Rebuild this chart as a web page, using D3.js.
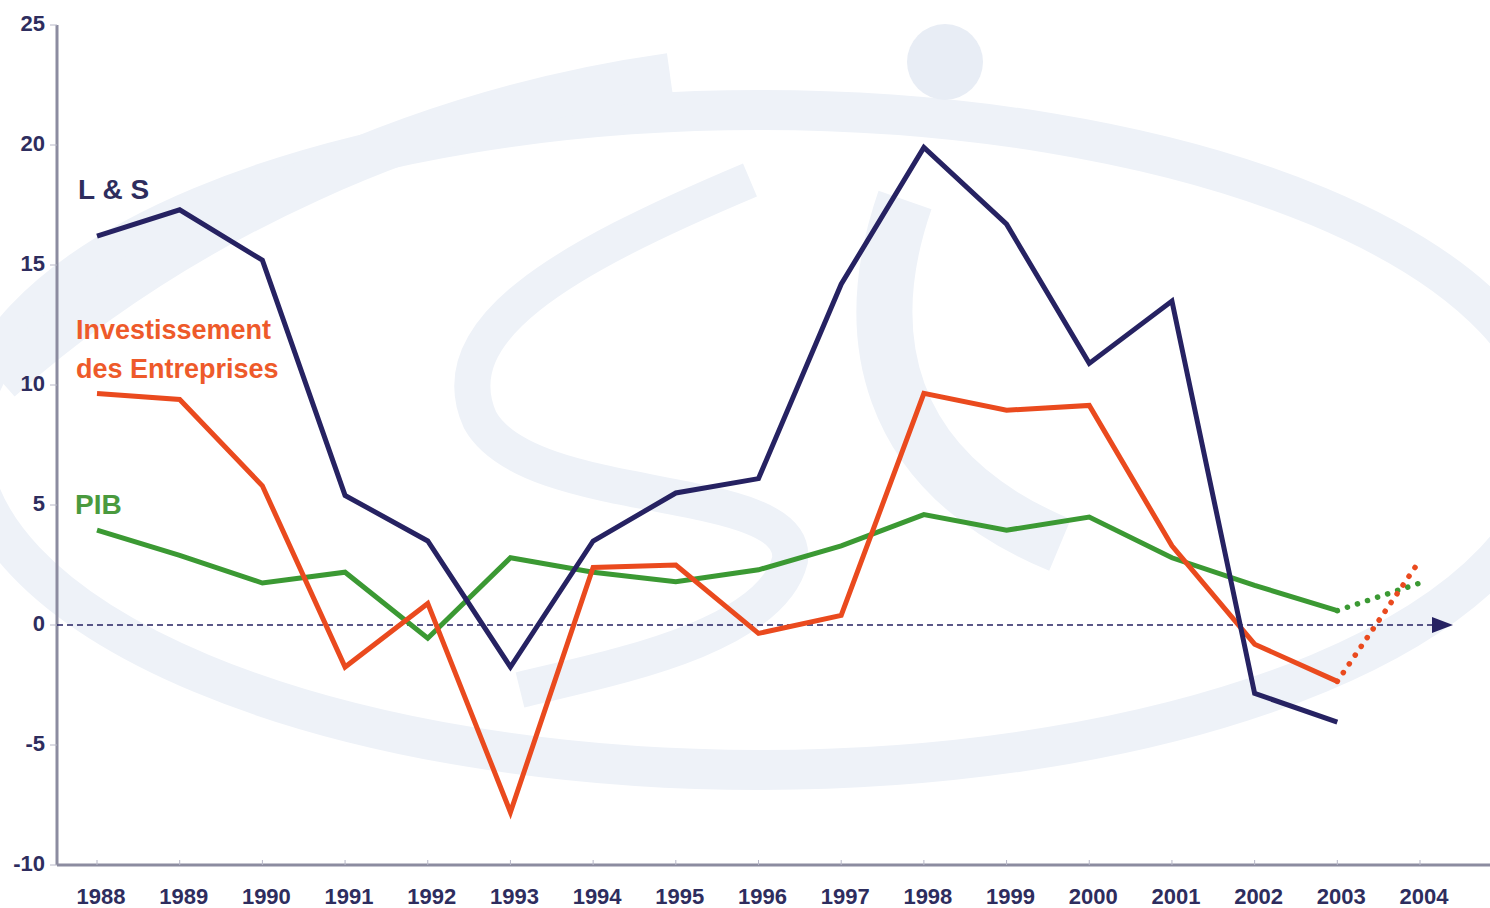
<!DOCTYPE html>
<html>
<head>
<meta charset="utf-8">
<script src="https://cdn.jsdelivr.net/npm/d3@7"></script>
<style>
  body { margin: 0; background: #fff; }
  svg { display: block; }
</style>
</head>
<body>
<div id="chart"></div>
<script>
// years on the x axis
var years = [1988, 1989, 1990, 1991, 1992, 1993, 1994, 1995, 1996, 1997, 1998, 1999, 2000, 2001, 2002, 2003, 2004];
var yTicks = [-10, -5, 0, 5, 10, 15, 20, 25];

// series values (1988..2003 solid)
var lsValues = [16.2, 17.3, 15.2, 5.4, 3.5, -1.75, 3.5, 5.5, 6.1, 14.2, 19.9, 16.7, 10.9, 13.5, -2.85, -4.05];
var invValues = [9.65, 9.4, 5.8, -1.75, 0.9, -7.8, 2.4, 2.5, -0.35, 0.4, 9.65, 8.95, 9.15, 3.3, -0.8, -2.35];
var pibValues = [3.95, 2.9, 1.75, 2.2, -0.55, 2.8, 2.2, 1.8, 2.3, 3.3, 4.6, 3.95, 4.5, 2.8, 1.65, 0.6];
// 2003 -> 2004 forecast (dotted)
var invForecast = [-2.35, 2.7];
var pibForecast = [0.6, 1.75];

var w = 1490, h = 908;
var navy = "#262262", orange = "#ea4a1e", green = "#3b9933";
var axisGray = "#8c8ca0";
var wmColor = "#eef2f8";

var svg = d3.select("#chart").append("svg")
  .attr("width", w)
  .attr("height", h);

var x = d3.scaleLinear().domain([1988, 2004]).range([97, 1420]);
var y = d3.scaleLinear().domain([-10, 25]).range([865, 25]);

// faint background watermark
var bg = svg.append("g").attr("id", "watermark");
bg.append("ellipse")
  .attr("cx", 760).attr("cy", 440)
  .attr("rx", 790).attr("ry", 330)
  .attr("fill", "none")
  .attr("stroke", wmColor)
  .attr("stroke-width", 40);
bg.append("path")
  .attr("d", "M 0 380 C 180 220, 420 110, 670 75")
  .attr("fill", "none")
  .attr("stroke", wmColor)
  .attr("stroke-width", 44);
bg.append("path")
  .attr("d", "M 750 180 C 560 260, 440 330, 480 420 C 530 510, 800 480, 790 560 C 770 640, 600 670, 520 690")
  .attr("fill", "none")
  .attr("stroke", wmColor)
  .attr("stroke-width", 36);
bg.append("path")
  .attr("d", "M 905 200 C 860 330, 880 470, 1060 545")
  .attr("fill", "none")
  .attr("stroke", wmColor)
  .attr("stroke-width", 56);
bg.append("circle")
  .attr("cx", 945).attr("cy", 62).attr("r", 38)
  .attr("fill", "#e8edf5");

// axes
svg.append("line")
  .attr("x1", 57).attr("x2", 57)
  .attr("y1", y(25)).attr("y2", y(-10))
  .attr("stroke", axisGray).attr("stroke-width", 3);
svg.append("line")
  .attr("x1", 57).attr("x2", w)
  .attr("y1", y(-10)).attr("y2", y(-10))
  .attr("stroke", axisGray).attr("stroke-width", 3);

var tickFont = "'Liberation Sans Narrow', 'Arial Narrow', 'Liberation Sans', sans-serif";

svg.append("g").selectAll("line")
  .data(yTicks)
  .enter().append("line")
  .attr("x1", 50).attr("x2", 57)
  .attr("y1", function(d) { return y(d); })
  .attr("y2", function(d) { return y(d); })
  .attr("stroke", "#b8b8c8").attr("stroke-width", 1);

svg.append("g").selectAll("text")
  .data(yTicks)
  .enter().append("text")
  .attr("x", 45)
  .attr("y", function(d) { return y(d); })
  .attr("text-anchor", "end")
  .attr("dominant-baseline", "middle")
  .attr("font-family", tickFont)
  .attr("font-weight", "bold")
  .attr("font-size", 22)
  .attr("fill", "#2e2d5e")
  .text(function(d) { return d; });

svg.append("g").selectAll("line")
  .data(years)
  .enter().append("line")
  .attr("x1", function(d) { return x(d); })
  .attr("x2", function(d) { return x(d); })
  .attr("y1", y(-10) - 5).attr("y2", y(-10))
  .attr("stroke", "#b8b8c8").attr("stroke-width", 1);

svg.append("g").selectAll("text")
  .data(years)
  .enter().append("text")
  .attr("x", function(d) { return x(d) + 4; })
  .attr("y", 904)
  .attr("text-anchor", "middle")
  .attr("font-family", tickFont)
  .attr("font-weight", "bold")
  .attr("font-size", 22)
  .attr("fill", "#2e2d5e")
  .text(function(d) { return d; });

// zero line with arrow
svg.append("line")
  .attr("x1", 57).attr("x2", 1436)
  .attr("y1", y(0)).attr("y2", y(0))
  .attr("stroke", navy).attr("stroke-width", 1.5)
  .attr("stroke-dasharray", "6 4");
svg.append("path")
  .attr("d", "M" + 1432 + "," + (y(0) - 8) + " L" + 1453 + "," + y(0) + " L" + 1432 + "," + (y(0) + 8) + " Z")
  .attr("fill", navy);

// series lines
var line = d3.line()
  .x(function(d, i) { return x(years[i]); })
  .y(function(d) { return y(d); });

var forecastLine = d3.line()
  .x(function(d, i) { return x(2003 + i); })
  .y(function(d) { return y(d); });

var series = [
  { values: pibValues, color: green },
  { values: invValues, color: orange },
  { values: lsValues, color: navy }
];

svg.append("g").selectAll("path")
  .data(series)
  .enter().append("path")
  .attr("d", function(d) { return line(d.values); })
  .attr("fill", "none")
  .attr("stroke", function(d) { return d.color; })
  .attr("stroke-width", 5)
  .attr("stroke-linejoin", "miter");

[{ values: pibForecast, color: green }, { values: invForecast, color: orange }].forEach(function(s) {
  svg.append("path")
    .attr("d", forecastLine(s.values))
    .attr("fill", "none")
    .attr("stroke", s.color)
    .attr("stroke-width", 5.5)
    .attr("stroke-linecap", "round")
    .attr("stroke-dasharray", "0.1 10.5");
});

// series labels
var labelFont = "'Liberation Sans Narrow', 'Arial Narrow', 'Liberation Sans', sans-serif";
svg.append("text")
  .attr("x", 78).attr("y", 199)
  .attr("font-family", labelFont).attr("font-weight", "bold")
  .attr("font-size", 28).attr("fill", "#2e2d5e")
  .text("L & S");
svg.append("text")
  .attr("x", 76).attr("y", 339)
  .attr("font-family", labelFont).attr("font-weight", "bold")
  .attr("font-size", 27).attr("fill", "#ee5a2a")
  .text("Investissement");
svg.append("text")
  .attr("x", 76).attr("y", 378)
  .attr("font-family", labelFont).attr("font-weight", "bold")
  .attr("font-size", 27).attr("fill", "#ee5a2a")
  .text("des Entreprises");
svg.append("text")
  .attr("x", 75).attr("y", 514)
  .attr("font-family", labelFont).attr("font-weight", "bold")
  .attr("font-size", 28).attr("fill", "#4a9a3e")
  .text("PIB");
</script>
</body>
</html>
